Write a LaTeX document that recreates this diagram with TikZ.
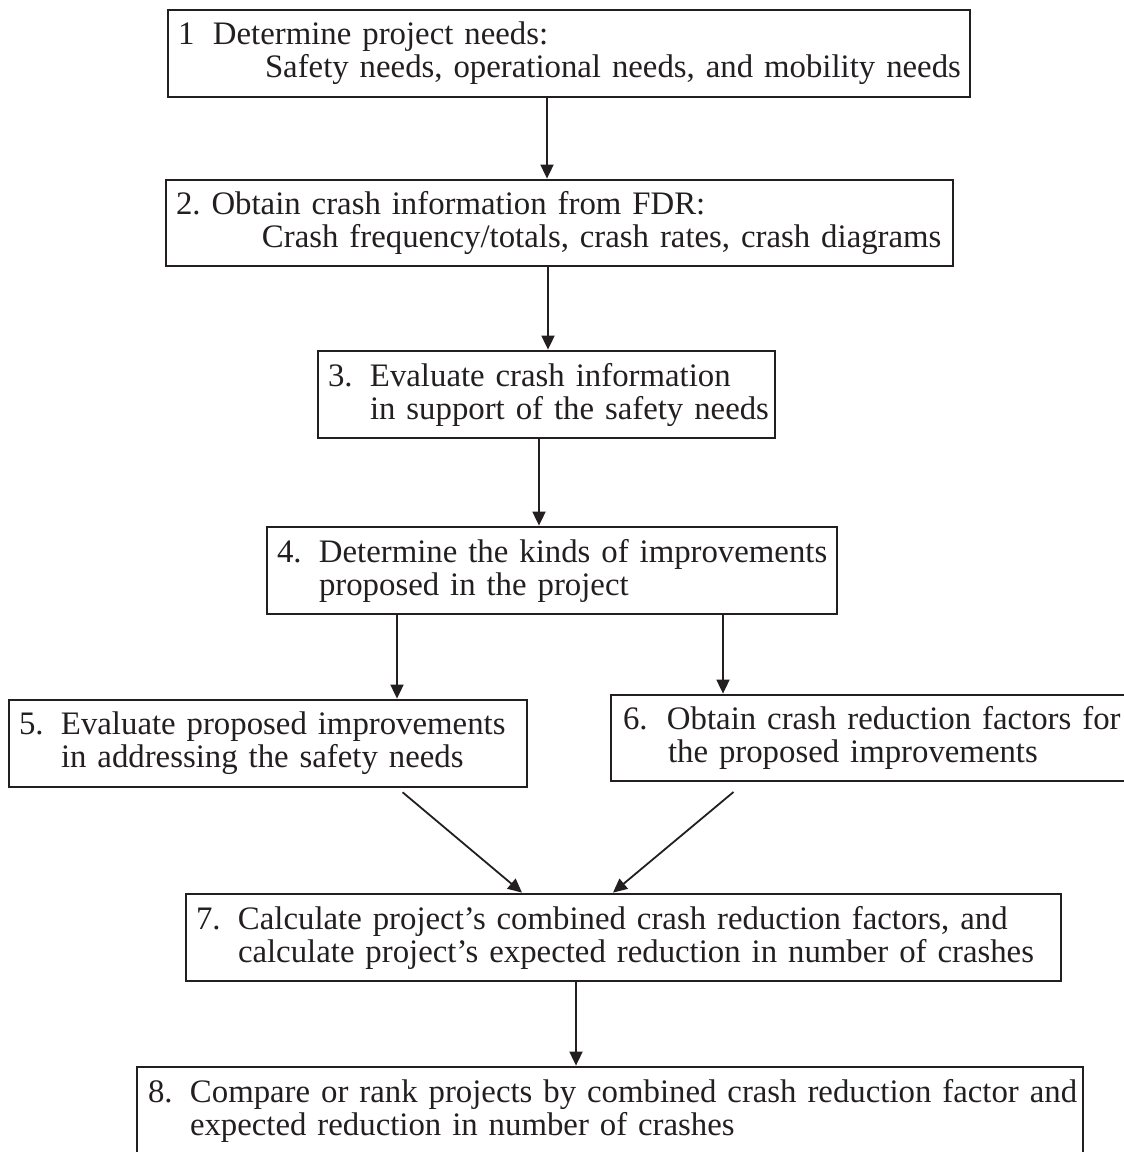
\documentclass[tikz,border=0pt]{standalone}
\usepackage{fontspec}
\setmainfont{Liberation Serif}
\usetikzlibrary{arrows.meta}
\definecolor{ink}{HTML}{231F20}
\frenchspacing
\tikzset{
  stepbox/.style={draw=ink,line width=1.4pt,inner xsep=5pt,inner ysep=0pt,
    align=left,text=ink,anchor=center,
    font=\fontsize{16.4}{16.5}\selectfont},
  flow/.style={draw=ink,line width=0.9pt,-{Triangle[length=7pt,width=6.5pt]}}
}
\newcommand\steplines[2]{\mbox{#1}\\\mbox{#2}}
\newcommand\stepno[1]{\makebox[21pt][l]{#1}}
\begin{document}
\begin{tikzpicture}[x=0.5pt,y=-0.5pt]%
\useasboundingbox (0,0) rectangle (1124,1152);
\clip (0,0) rectangle (1124,1152);
% boxes
\node[stepbox,minimum width=401pt,minimum height=43.5pt,text width=391pt] (b1) at (569,53.5)
 {\steplines{\makebox[17.5pt][l]{1}Determine project needs:}{\hspace*{43.5pt}Safety needs, operational needs, and mobility needs}};
\node[stepbox,minimum width=393.5pt,minimum height=43pt,text width=383.5pt] (b2) at (559.5,223)
 {\steplines{2. Obtain crash information from FDR:}{\hspace*{43pt}Crash frequency/totals, crash rates, crash diagrams}};
\node[stepbox,minimum width=228.5pt,minimum height=43.5pt,text width=218.5pt] (b3) at (546.5,394.5)
 {\steplines{\stepno{3.}Evaluate crash information}{\hspace*{21pt}in support of the safety needs}};
\node[stepbox,minimum width=285pt,minimum height=43.5pt,text width=275pt] (b4) at (552,570.5)
 {\steplines{\stepno{4.}Determine the kinds of improvements}{\hspace*{21pt}proposed in the project}};
\node[stepbox,minimum width=259pt,minimum height=43.5pt,text width=249pt] (b5) at (268,743.5)
 {\steplines{\stepno{5.}Evaluate proposed improvements}{\hspace*{21pt}in addressing the safety needs}};
\node[stepbox,minimum width=262pt,minimum height=43pt,text width=250pt,inner xsep=6pt] (b6) at (873,738)
 {\steplines{\makebox[22pt][l]{6.}Obtain crash reduction factors for}{\hspace*{22.5pt}the proposed improvements}};
\node[stepbox,minimum width=437.5pt,minimum height=43.5pt,text width=427.5pt] (b7) at (623.5,937.5)
 {\steplines{\stepno{7.}Calculate project’s combined crash reduction factors, and}{\hspace*{21pt}calculate project’s expected reduction in number of crashes}};
\node[stepbox,minimum width=473pt,minimum height=43.5pt,text width=462pt,inner xsep=5.5pt] (b8) at (610,1110.5)
 {\steplines{\stepno{8.}Compare or rank projects by combined crash reduction factor and}{\hspace*{21pt}expected reduction in number of crashes}};
% connectors
\draw[flow] (547,0 |- b1.south) -- (547,0 |- b2.north);
\draw[flow] (548,0 |- b2.south) -- (548,0 |- b3.north);
\draw[flow] (539,0 |- b3.south) -- (539,0 |- b4.north);
\draw[flow] (397,0 |- b4.south) -- (397,0 |- b5.north);
\draw[flow] (723,0 |- b4.south) -- (723,0 |- b6.north);
\draw[flow,shorten <=3pt] (398,0 |- b5.south) -- (522,0 |- b7.north);
\draw[flow,shorten <=7.5pt] (745,0 |- b6.south) -- (613,0 |- b7.north);
\draw[flow] (576,0 |- b7.south) -- (576,0 |- b8.north);
\end{tikzpicture}
\end{document}
